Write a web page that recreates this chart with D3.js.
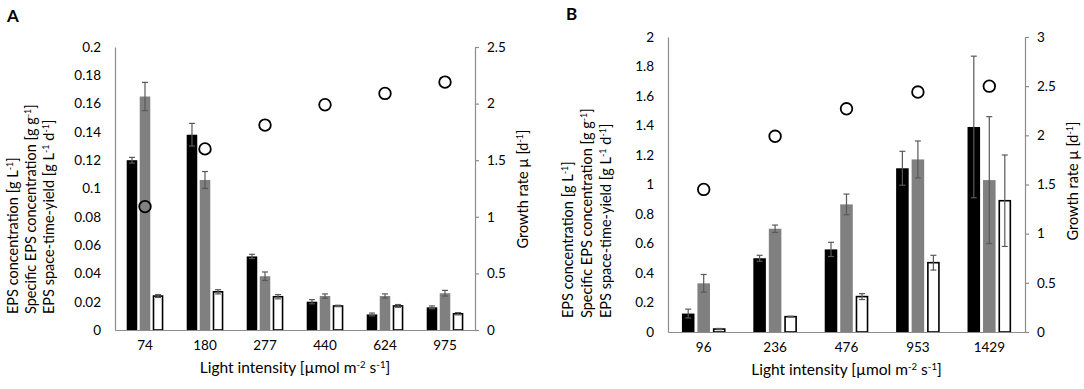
<!DOCTYPE html>
<html>
<head>
<meta charset="utf-8">
<script src="https://cdn.jsdelivr.net/npm/d3@7/dist/d3.min.js"></script>
<style>
  html, body { margin: 0; padding: 0; background: #fff; }
  svg { display: block; }
  text { font-family: Lato, "Open Sans", sans-serif; fill: #000; }
</style>
</head>
<body>
<svg id="chart" width="1084" height="389"></svg>
<script>
// ---------- Panel A data ----------
const catsA = ["74", "180", "277", "440", "624", "975"];
const epsConcA = [0.120, 0.138, 0.052, 0.020, 0.011, 0.016];
const epsConcAErr = [0.002, 0.008, 0.0015, 0.0015, 0.001, 0.001];
const specEpsA = [0.165, 0.106, 0.038, 0.024, 0.024, 0.026];
const specEpsAErr = [0.010, 0.006, 0.003, 0.0015, 0.0015, 0.002];
const styA = [0.024, 0.027, 0.0235, 0.017, 0.017, 0.0115];
const styAErr = [0.001, 0.0015, 0.0015, 0.0005, 0.001, 0.0008];
const growthA = [1.09, 1.60, 1.81, 1.99, 2.09, 2.19];
const leftTicksA = [0, 0.02, 0.04, 0.06, 0.08, 0.1, 0.12, 0.14, 0.16, 0.18, 0.2];
const rightTicksA = [0, 0.5, 1, 1.5, 2, 2.5];

// ---------- Panel B data ----------
const catsB = ["96", "236", "476", "953", "1429"];
const epsConcB = [0.125, 0.50, 0.56, 1.11, 1.39];
const epsConcBErr = [0.03, 0.02, 0.048, 0.115, 0.48];
const specEpsB = [0.33, 0.70, 0.865, 1.17, 1.03];
const specEpsBErr = [0.06, 0.025, 0.07, 0.125, 0.43];
const styB = [0.02, 0.104, 0.24, 0.47, 0.89];
const styBErr = [0.004, 0.003, 0.02, 0.05, 0.31];
const growthB = [1.45, 1.99, 2.27, 2.44, 2.50];
const leftTicksB = [0, 0.2, 0.4, 0.6, 0.8, 1, 1.2, 1.4, 1.6, 1.8, 2];
const rightTicksB = [0, 0.5, 1, 1.5, 2, 2.5, 3];

const seriesColors = ["#000000", "#808080", "#ffffff"];
const axisColor = "#8c8c8c";
const errColor = "#595959";
const FONT = 'Lato, "Open Sans", sans-serif';

const svg = d3.select("#chart");
svg.append("rect").attr("width", 1084).attr("height", 389).attr("fill", "#fff");

function superText(sel, parts) {
  parts.forEach(([t, sup]) => {
    const ts = sel.append("tspan").text(t);
    if (sup) ts.attr("baseline-shift", "super").attr("font-size", "0.62em");
  });
}

function drawPanel(cfg) {
  const g = svg.append("g");
  const x0 = d3.scaleBand().domain(cfg.cats).range([cfg.left, cfg.right])
    .paddingInner(0.39).paddingOuter(0.195);
  const x1 = d3.scaleBand().domain([0, 1, 2]).range([0, x0.bandwidth()]).paddingInner(0.19);
  const yL = d3.scaleLinear().domain([0, cfg.leftMax]).range([cfg.bottom, cfg.top]);
  const yR = d3.scaleLinear().domain([0, cfg.rightMax]).range([cfg.bottom, cfg.top]);

  const series = [
    { vals: cfg.s1, err: cfg.e1 },
    { vals: cfg.s2, err: cfg.e2 },
    { vals: cfg.s3, err: cfg.e3 }
  ];

  series.forEach((s, si) => {
    const bw = x1.bandwidth();
    g.selectAll(null).data(cfg.cats).enter().append("rect")
      .attr("x", c => x0(c) + x1(si) + (si === 2 ? 0.75 : 0))
      .attr("y", (c, i) => yL(s.vals[i]))
      .attr("width", bw - (si === 2 ? 1.5 : 0))
      .attr("height", (c, i) => cfg.bottom - yL(s.vals[i]))
      .attr("fill", seriesColors[si])
      .attr("stroke", si === 2 ? "#000" : "none")
      .attr("stroke-width", si === 2 ? 1.6 : 0);
  });

  series.forEach((s, si) => {
    const cx = c => x0(c) + x1(si) + x1.bandwidth() / 2;
    const cap = 3;
    const eg = g.append("g").attr("stroke", errColor).attr("stroke-width", 1.2);
    cfg.cats.forEach((c, i) => {
      const lo = yL(Math.max(0, s.vals[i] - s.err[i]));
      const hi = yL(s.vals[i] + s.err[i]);
      const x = cx(c);
      eg.append("line").attr("x1", x).attr("x2", x).attr("y1", lo).attr("y2", hi);
      eg.append("line").attr("x1", x - cap).attr("x2", x + cap).attr("y1", lo).attr("y2", lo);
      eg.append("line").attr("x1", x - cap).attr("x2", x + cap).attr("y1", hi).attr("y2", hi);
    });
  });

  g.selectAll(null).data(cfg.cats).enter().append("circle")
    .attr("cx", c => x0(c) + x0.bandwidth() / 2)
    .attr("cy", (c, i) => yR(cfg.growth[i]))
    .attr("r", 5.8)
    .attr("fill", "none")
    .attr("stroke", "#000")
    .attr("stroke-width", 1.8);

  const tickFont = 13.5;
  const axL = g.append("g").attr("transform", `translate(${cfg.left},0)`)
    .call(d3.axisLeft(yL).tickValues(cfg.leftTicks).tickSize(0).tickPadding(14)
      .tickFormat(d => String(+d.toFixed(2))));
  axL.select(".domain").attr("stroke", axisColor).attr("stroke-width", 1.2);
  axL.selectAll("text").attr("font-size", tickFont).attr("font-family", FONT).attr("fill", "#000");

  const axR = g.append("g").attr("transform", `translate(${cfg.right},0)`)
    .call(d3.axisRight(yR).tickValues(cfg.rightTicks).tickSize(4).tickSizeOuter(0).tickPadding(8)
      .tickFormat(d => String(d)));
  axR.select(".domain").attr("stroke", axisColor).attr("stroke-width", 1.2);
  axR.selectAll(".tick line").attr("stroke", axisColor).attr("stroke-width", 1.2);
  axR.selectAll("text").attr("font-size", tickFont).attr("font-family", FONT).attr("fill", "#000");

  const axB = g.append("g").attr("transform", `translate(0,${cfg.bottom})`)
    .call(d3.axisBottom(x0).tickSize(0).tickSizeOuter(0).tickPadding(10));
  axB.select(".domain").attr("stroke", axisColor).attr("stroke-width", 1.2);
  axB.selectAll("text").attr("font-size", tickFont).attr("font-family", FONT).attr("fill", "#000");

  const titleFont = 14.5;
  const xt = g.append("text")
    .attr("x", (cfg.left + cfg.right) / 2).attr("y", cfg.bottom + 43)
    .attr("text-anchor", "middle").attr("font-size", 15.5);
  superText(xt, [["Light intensity [µmol m", false], ["-2", true], [" s", false], ["-1", true], ["]", false]]);

  const lines = [
    [["EPS concentration [g L", false], ["-1", true], ["]", false]],
    [["Specific EPS concentration [g g", false], ["-1", true], ["]", false]],
    [["EPS space-time-yield [g L", false], ["-1", true], [" d", false], ["-1", true], ["]", false]]
  ];
  lines.forEach((ln, k) => {
    const t = g.append("text")
      .attr("transform", `translate(${cfg.titleX[k]},${cfg.titleStart}) rotate(-90)`)
      .attr("text-anchor", "start").attr("font-size", titleFont);
    superText(t, ln);
  });

  const rt = g.append("text")
    .attr("transform", `translate(${cfg.rTitleX},${cfg.rTitleY}) rotate(-90)`)
    .attr("text-anchor", "middle").attr("font-size", titleFont);
  superText(rt, [["Growth rate µ [d", false], ["-1", true], ["]", false]]);

  g.append("text").attr("x", cfg.letterX).attr("y", cfg.letterY)
    .attr("font-family", '"Liberation Sans", Arial, sans-serif')
    .attr("font-weight", "bold").attr("font-size", 17).text(cfg.letter);
}

drawPanel({
  cats: catsA, s1: epsConcA, e1: epsConcAErr, s2: specEpsA, e2: specEpsAErr, s3: styA, e3: styAErr,
  growth: growthA, leftTicks: leftTicksA, rightTicks: rightTicksA,
  leftMax: 0.2, rightMax: 2.5,
  left: 115, right: 475, top: 47, bottom: 330,
  titleX: [18, 36, 54], titleStart: 314,
  rTitleX: 528, rTitleY: 189,
  letter: "A", letterX: 7, letterY: 22
});

drawPanel({
  cats: catsB, s1: epsConcB, e1: epsConcBErr, s2: specEpsB, e2: specEpsBErr, s3: styB, e3: styBErr,
  growth: growthB, leftTicks: leftTicksB, rightTicks: rightTicksB,
  leftMax: 2, rightMax: 3,
  left: 668, right: 1025, top: 37, bottom: 332,
  titleX: [573, 592, 611], titleStart: 318,
  rTitleX: 1078, rTitleY: 181,
  letter: "B", letterX: 566, letterY: 20
});
</script>
</body>
</html>
